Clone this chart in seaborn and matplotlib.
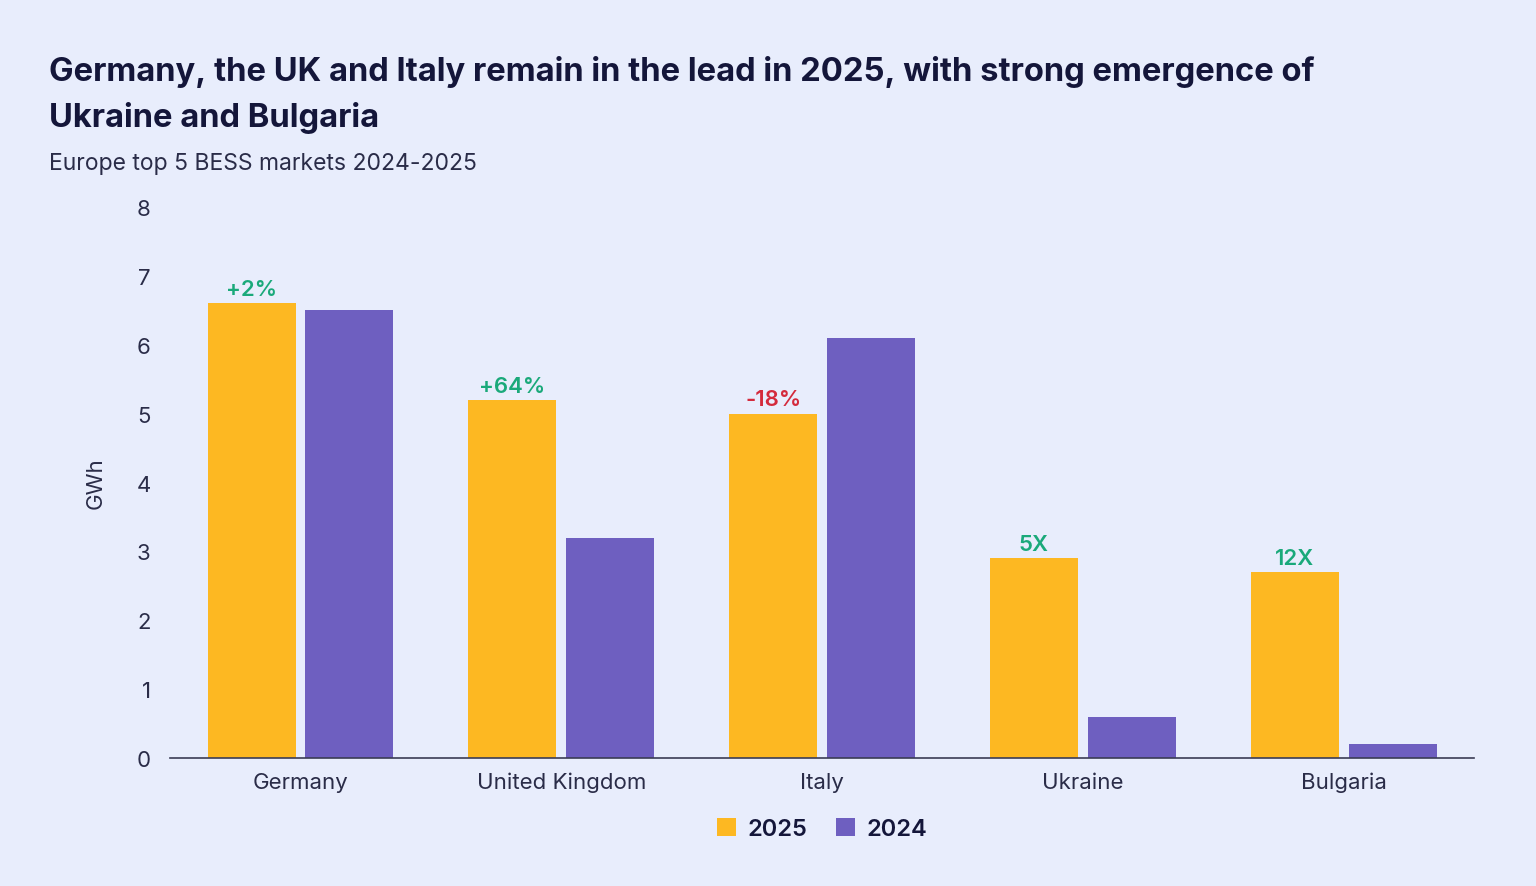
import pandas as pd
import matplotlib.pyplot as plt
import seaborn as sns

# chart data
countries = ["Germany", "United Kingdom", "Italy", "Ukraine", "Bulgaria"]
gwh_2025 = [6.6, 5.2, 5.0, 2.9, 2.7]
gwh_2024 = [6.5, 3.2, 6.1, 0.6, 0.2]
growth_labels = ["+2%", "+64%", "-18%", "5X", "12X"]
growth_colors = ["#1aa97a", "#1aa97a", "#d42a3c", "#1aa97a", "#1aa97a"]

bg = "#e8edfc"
navy = "#14163a"

df = pd.DataFrame({
    "Country": countries * 2,
    "Year": ["2025"] * 5 + ["2024"] * 5,
    "GWh": gwh_2025 + gwh_2024,
})

sns.set_theme(style="white")
plt.rcParams["font.family"] = ["Inter", "DejaVu Sans"]

fig = plt.figure(figsize=(15.36, 8.87), dpi=100, facecolor=bg)
ax = fig.add_axes([0.1107, 0.1443, 0.849, 0.6212])
ax.set_facecolor(bg)

sns.barplot(data=df, x="Country", y="GWh", hue="Year", order=countries,
            hue_order=["2025", "2024"], palette=["#fdb822", "#6e5fc0"],
            width=0.75, gap=0.1, saturation=1, linewidth=0, ax=ax, legend=True)

ax.set_ylim(0, 8)
ax.set_xlim(-0.5, 4.5)
ax.set_yticks(range(0, 9))
ax.tick_params(axis="both", length=0, labelsize=16, colors="#2a2c48")
ax.tick_params(axis="y", pad=14)
ax.tick_params(axis="x", pad=10)
ax.set_xlabel("")
ax.set_ylabel("GWh", fontsize=16, color="#2a2c48", labelpad=22)
for s in ["top", "right", "left"]:
    ax.spines[s].set_visible(False)
ax.spines["bottom"].set_color("#3a3c55")
ax.spines["bottom"].set_linewidth(1.2)

# growth labels above the 2025 bars
bars_2025 = ax.containers[0]
for bar, lab, col in zip(bars_2025, growth_labels, growth_colors):
    ax.text(bar.get_x() + bar.get_width() / 2, bar.get_height() + 0.06, lab,
            ha="center", va="bottom", fontsize=16, fontweight="semibold", color=col)

leg = ax.legend(loc="upper center", bbox_to_anchor=(0.5, -0.07), ncol=2,
                frameon=False, fontsize=17, handlelength=0.8, handleheight=0.8,
                columnspacing=1.2, handletextpad=0.5)
for t in leg.get_texts():
    t.set_color(navy)
    t.set_fontweight("semibold")

fig.text(0.032, 0.919, "Germany, the UK and Italy remain in the lead in 2025, with strong emergence of",
         fontsize=23.6, fontweight="bold", color=navy, va="center")
fig.text(0.032, 0.867, "Ukraine and Bulgaria",
         fontsize=23.6, fontweight="bold", color=navy, va="center")
fig.text(0.032, 0.815, "Europe top 5 BESS markets 2024-2025",
         fontsize=16.5, color="#2a2c48", va="center")

fig.savefig("out.png", dpi=100, facecolor=bg)
